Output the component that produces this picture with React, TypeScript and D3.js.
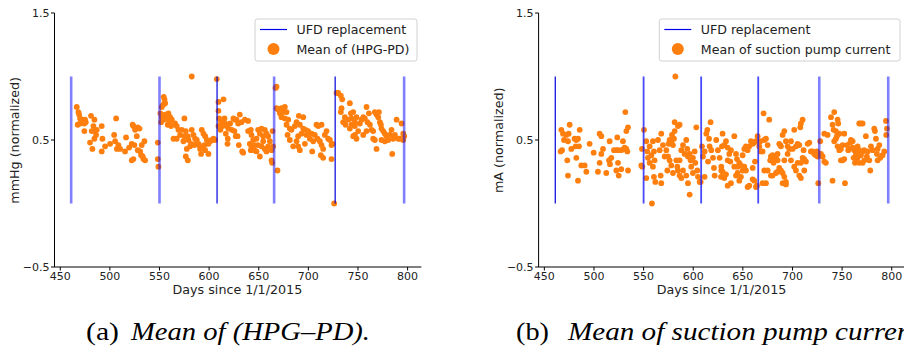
import React from "react";
import * as d3 from "d3";

// ---------- DATA ----------
const UFD_DAYS: number[] = [461, 550, 608, 665.5, 727, 796.5];
const X_TICKS: number[] = [450, 500, 550, 600, 650, 700, 750, 800];
const Y_TICKS: number[] = [-0.5, 0.5, 1.5];
const Y_TICK_LABELS: string[] = ["\u22120.5", "0.5", "1.5"];

// Mean of (HPG-PD): [day, value]
const HPG_PD: [number, number][] = [
  [466.6, 0.76], [468.3, 0.72], [469, 0.70], [467.6, 0.62], [470, 0.67], [471.7, 0.66], [473.3, 0.64],
  [474.3, 0.63], [475, 0.66], [470, 0.63], [475.7, 0.64], [474.3, 0.57], [481, 0.69], [484.4, 0.66],
  [483.4, 0.61], [481.7, 0.57], [485.1, 0.57], [486.1, 0.54], [480, 0.48], [482.4, 0.43], [484.4, 0.51],
  [486.8, 0.58], [491.8, 0.61], [492.5, 0.51], [495.2, 0.45], [491.8, 0.41], [500.2, 0.47], [504.3, 0.54],
  [506.3, 0.67], [505.3, 0.49], [507, 0.43], [508.6, 0.46], [510.3, 0.43], [515.3, 0.41], [516.3, 0.52],
  [519.4, 0.44], [522, 0.47], [523, 0.62], [523.7, 0.61], [525.4, 0.58], [528.1, 0.60], [529.8, 0.59],
  [527.1, 0.53], [524.7, 0.46], [523.7, 0.35], [522, 0.34], [528.1, 0.42], [530.5, 0.41], [532.1, 0.46],
  [533.1, 0.37], [534.8, 0.49], [533.8, 0.35], [535.5, 0.34], [531.5, 0.38], [548.3, 0.48], [548.3, 0.35],
  [548.9, 0.29],
  [554.3, 0.84], [555, 0.82], [554, 0.78], [552.3, 0.76], [555.7, 0.79], [550.9, 0.71], [552.3, 0.68],
  [555.7, 0.70], [557.3, 0.67], [559, 0.71], [560.7, 0.68], [559.7, 0.64], [562.4, 0.66], [558.3, 0.62],
  [561.7, 0.61], [554, 0.66], [551.6, 0.64], [565.7, 0.63], [567.4, 0.61], [569.1, 0.58], [564.1, 0.51],
  [567.4, 0.51], [570.8, 0.54], [572.5, 0.58], [575.1, 0.67], [575.1, 0.53], [574.1, 0.49], [576.5, 0.57],
  [578.5, 0.53], [579.2, 0.50], [582.5, 0.58], [584.2, 0.54], [585.9, 0.51], [580.9, 0.45], [577.5, 0.43],
  [581.9, 0.47], [585.2, 0.46], [587.6, 0.50], [589.3, 0.47], [590.9, 0.43], [592.6, 0.58], [594.3, 0.55],
  [596, 0.53], [597.7, 0.50], [595.3, 0.46], [593.3, 0.44], [599.3, 0.47], [601, 0.49], [602.7, 0.50],
  [604.4, 0.51], [606, 0.50], [599.3, 0.39], [591.9, 0.39], [596, 0.42], [576.5, 0.37], [578.5, 0.34],
  [582.5, 1.00], [586.9, 0.47], [589.9, 0.46],
  [607.7, 0.98], [609.4, 0.80], [609.4, 0.73], [614.5, 0.82], [610.1, 0.67], [612.1, 0.64], [613.5, 0.61],
  [615.5, 0.67], [616.1, 0.63], [617.8, 0.61], [619.5, 0.59], [621.2, 0.63], [624.5, 0.67], [626.2, 0.66],
  [616.8, 0.55], [618.8, 0.51], [609.4, 0.61], [611.4, 0.58], [618.5, 0.47], [622.9, 0.58], [625.5, 0.57],
  [626.9, 0.53], [630.9, 0.70], [627.6, 0.66], [629.3, 0.63], [632.6, 0.64], [636, 0.66], [639.3, 0.65],
  [628.6, 0.53], [629.9, 0.46], [633.3, 0.41], [634.3, 0.40], [639.3, 0.57], [642, 0.58], [642.7, 0.54],
  [644.4, 0.50], [641, 0.47], [642.7, 0.45], [646.1, 0.46], [647.7, 0.51], [649.4, 0.58], [651.1, 0.55],
  [652.8, 0.59], [654.5, 0.53], [656.1, 0.58], [657.8, 0.55], [659.5, 0.53], [661.2, 0.49], [647.7, 0.41],
  [651.1, 0.37], [656.1, 0.43], [657.8, 0.41], [659.5, 0.45], [662.9, 0.42], [663.9, 0.57], [664.5, 0.45],
  [662.9, 0.34], [663.5, 0.32], [652.8, 0.45], [649.4, 0.46], [645.4, 0.42], [642, 0.42], [654.5, 0.49],
  [666.9, 0.91], [667.9, 0.92], [668.9, 0.26], [667.9, 0.75], [669.6, 0.74], [672.9, 0.75], [676.3, 0.76],
  [678, 0.72], [674.6, 0.72], [671.3, 0.71], [672.9, 0.68], [676.3, 0.67], [679.7, 0.66], [678, 0.62],
  [681.3, 0.59], [679, 0.54], [681.3, 0.50], [683, 0.58], [686.4, 0.61], [688.1, 0.64], [690.4, 0.69],
  [694.8, 0.68], [691.4, 0.62], [693.1, 0.55], [684.7, 0.45], [688.1, 0.49], [689.7, 0.53], [691.4, 0.42],
  [694.8, 0.59], [697.1, 0.58], [698.1, 0.54], [699.8, 0.57], [701.5, 0.51], [703.2, 0.55], [704.9, 0.49],
  [706.5, 0.54], [708.2, 0.62], [709.9, 0.61], [713.3, 0.62], [709.2, 0.51], [711.6, 0.49], [713.3, 0.46],
  [714.9, 0.43], [712.6, 0.38], [714.9, 0.36], [716.6, 0.54], [718.3, 0.57], [720, 0.51], [721.7, 0.50],
  [723.3, 0.46], [724.3, 0.47], [723.3, 0.35], [703.9, 0.41], [696.5, 0.47], [689.7, 0.45], [726, 0.0],
  [728.4, 0.87], [730.1, 0.87], [732.7, 0.85], [734.1, 0.82], [733.4, 0.75], [732.7, 0.72], [736.8, 0.68],
  [735.1, 0.64], [737.5, 0.62], [741.8, 0.79], [740.1, 0.66], [742.8, 0.71], [743.5, 0.67], [745.2, 0.72],
  [746.9, 0.64], [748.5, 0.68], [741.8, 0.59], [745.2, 0.53], [746.9, 0.54], [750.2, 0.57], [751.9, 0.63],
  [753.6, 0.66], [755.3, 0.68], [758.6, 0.76], [756.9, 0.67], [759.6, 0.64], [762, 0.62], [763.7, 0.58],
  [765.3, 0.57], [767, 0.72], [768.7, 0.70], [770.4, 0.68], [771.1, 0.72], [772.1, 0.64], [773.1, 0.62],
  [773.7, 0.59], [775.4, 0.57], [777.1, 0.55], [778.8, 0.53], [780.5, 0.50], [782.1, 0.54], [783.8, 0.58],
  [785.5, 0.51], [787.2, 0.54], [788.9, 0.66], [790.5, 0.51], [792.2, 0.51], [767, 0.50], [768.7, 0.43],
  [773.7, 0.50], [777.1, 0.49], [784.5, 0.39], [765.3, 0.51], [748.5, 0.51], [755.3, 0.54], [758.6, 0.57],
  [746.9, 0.61], [743.5, 0.62], [761, 0.71], [793.9, 0.63], [795.6, 0.55], [796.6, 0.53], [795.6, 0.50],
];

// Mean of suction pump current: [day, value]
const PUMP_CURRENT: [number, number][] = [
  [467.1, 0.58], [468.8, 0.55], [467.8, 0.42], [466.4, 0.41], [469.8, 0.50], [472.1, 0.54], [473.8, 0.49],
  [475.5, 0.62], [474.5, 0.55], [477.2, 0.43], [480.5, 0.51], [482.2, 0.50], [483.9, 0.51], [481.5, 0.45],
  [484.9, 0.45], [485.6, 0.58], [473.1, 0.34], [473.8, 0.22], [482.2, 0.36], [483.9, 0.18], [487.2, 0.30],
  [490.6, 0.30], [492.3, 0.25], [495.6, 0.47], [499.7, 0.40], [504, 0.25], [505.7, 0.32], [505.7, 0.55],
  [507.4, 0.53], [509.1, 0.43], [507.4, 0.39], [512.4, 0.24], [515.1, 0.34], [515.8, 0.49], [517.5, 0.36],
  [522.5, 0.42], [520.2, 0.42], [523.5, 0.52], [524.2, 0.42], [522.5, 0.26], [524.2, 0.32], [524.9, 0.22],
  [527.5, 0.27], [529.2, 0.49], [530.2, 0.43], [531.6, 0.72], [532.6, 0.57], [534.3, 0.60], [533.6, 0.41],
  [532.6, 0.43], [534.3, 0.26], [530.9, 0.44], [527.5, 0.42], [516.1, 0.31],
  [550.4, 0.58], [548.4, 0.43], [547.7, 0.30], [548.7, 0.29], [552.7, 0.49], [553.7, 0.41], [554.4, 0.36],
  [556.1, 0.45], [557.8, 0.38], [559.4, 0.49], [560.4, 0.41], [561.1, 0.34], [556.1, 0.32], [559.4, 0.29],
  [552.7, 0.20], [560.4, 0.21], [561.8, 0.17], [558.4, 0.0], [564.5, 0.50], [566.2, 0.42], [567.8, 0.55],
  [569.5, 0.46], [571.2, 0.37], [572.9, 0.42], [573.9, 0.26], [575.2, 0.47], [576.2, 0.50], [577.9, 0.49],
  [578.6, 0.54], [579.6, 0.46], [580.6, 0.51], [581.3, 0.57], [582, 1.0], [583, 0.34], [584, 0.29],
  [584.6, 0.26], [586.3, 0.34], [588, 0.42], [589.7, 0.46], [581.3, 0.64], [584.6, 0.61], [586.3, 0.62],
  [591.3, 0.39], [593, 0.50], [594, 0.43], [594.7, 0.37], [596.4, 0.39], [597.4, 0.34], [598, 0.29],
  [599.7, 0.36], [601.4, 0.41], [602.1, 0.32], [603.1, 0.60], [604.1, 0.26], [604.8, 0.21], [606.5, 0.17],
  [567.2, 0.22], [567.8, 0.16], [576.2, 0.34], [577.9, 0.30], [579.6, 0.24], [586.3, 0.22], [589.7, 0.26],
  [593, 0.22], [594.7, 0.16], [596.4, 0.07], [599.7, 0.24], [588, 0.20], [574.6, 0.37],
  [608.8, 0.45], [609.8, 0.37], [611.5, 0.41], [613.2, 0.55], [614.2, 0.58], [615.9, 0.51], [617.5, 0.64],
  [616.5, 0.45], [618.2, 0.42], [619.9, 0.36], [620.9, 0.28], [623.2, 0.50], [624.9, 0.42], [626.6, 0.36],
  [628.3, 0.29], [629, 0.45], [628.3, 0.26], [611.5, 0.21], [614.9, 0.33], [607.5, 0.17], [621.6, 0.22],
  [629.6, 0.55], [631.3, 0.46], [633, 0.49], [634.7, 0.44], [636.3, 0.39], [637.4, 0.33], [634.7, 0.34],
  [629.6, 0.25], [631.3, 0.20], [628, 0.21], [633, 0.23], [638, 0.42], [641.4, 0.53], [643.1, 0.39],
  [644.1, 0.35], [644.7, 0.29], [641.4, 0.29], [646.4, 0.32], [648.1, 0.30], [649.8, 0.38], [651.5, 0.43],
  [653.1, 0.45], [654.8, 0.42], [656.5, 0.45], [658.2, 0.49], [659.9, 0.47], [661.5, 0.48], [663.2, 0.49],
  [662.2, 0.33], [659.9, 0.28], [654.8, 0.13], [656.5, 0.14], [659.9, 0.19], [661.5, 0.18], [663.2, 0.13],
  [664.2, 0.14], [648.1, 0.21], [649.8, 0.26], [651.5, 0.29], [644.7, 0.24], [646.4, 0.18], [653.1, 0.26],
  [643.1, 0.22], [634.7, 0.14], [638, 0.16],
  [664.9, 0.53], [666.6, 0.45], [667.6, 0.49], [668.2, 0.41], [669.9, 0.41], [670.9, 0.71], [671.6, 0.50],
  [673.3, 0.51], [675, 0.46], [676.6, 0.66], [677.6, 0.34], [678.3, 0.37], [680, 0.38], [681, 0.32],
  [681.7, 0.34], [683.4, 0.36], [685, 0.39], [686.7, 0.47], [687.7, 0.46], [688.4, 0.45], [690.1, 0.54],
  [691.8, 0.57], [693.4, 0.49], [695.1, 0.45], [696.8, 0.43], [683.4, 0.24], [685, 0.25], [686.7, 0.28],
  [688.4, 0.26], [690.1, 0.24], [691.8, 0.21], [693.4, 0.17], [690.1, 0.16], [693.4, 0.15], [671.6, 0.26],
  [675, 0.26], [678.3, 0.22], [680, 0.22], [673.3, 0.16], [669.9, 0.16], [698.5, 0.49], [700.2, 0.43],
  [701.8, 0.58], [703.5, 0.45], [705.2, 0.47], [706.9, 0.46], [707.9, 0.60], [708.5, 0.63], [710.2, 0.66],
  [711.2, 0.42], [711.9, 0.35], [710.2, 0.36], [708.5, 0.32], [711.9, 0.26], [713.6, 0.33], [715.3, 0.47],
  [717, 0.48], [718.6, 0.41], [720.3, 0.41], [722, 0.39], [723.7, 0.38], [724.7, 0.41], [725.3, 0.37],
  [706.9, 0.22], [708.5, 0.20], [698.5, 0.34], [701.8, 0.29], [703.5, 0.26], [705.2, 0.32], [695.1, 0.39],
  [691.8, 0.34], [685, 0.34],
  [726, 0.16], [728, 0.49], [728.7, 0.39], [730.4, 0.37], [732.1, 0.33], [733.7, 0.32], [732.1, 0.55],
  [735.4, 0.54], [738.8, 0.68], [742.1, 0.72], [740.4, 0.62], [741.4, 0.58], [743.8, 0.57], [745.5, 0.66],
  [746.1, 0.63], [744.8, 0.53], [743.8, 0.51], [747.2, 0.55], [740.4, 0.18], [742.1, 0.49], [745.5, 0.45],
  [747.2, 0.42], [748.8, 0.43], [750.5, 0.46], [752.2, 0.55], [752.9, 0.16], [748.8, 0.34], [750.5, 0.34],
  [752.2, 0.35], [754.9, 0.46], [756.2, 0.42], [757.2, 0.43], [758.2, 0.48], [758.9, 0.50], [760.6, 0.49],
  [762.3, 0.42], [764, 0.39], [761.6, 0.36], [763, 0.32], [765.6, 0.36], [767.3, 0.63], [769, 0.63],
  [770.7, 0.63], [769, 0.38], [770.7, 0.41], [772.3, 0.42], [774, 0.53], [775, 0.37], [775.7, 0.41],
  [777.4, 0.34], [778.4, 0.26], [779.1, 0.45], [780.7, 0.42], [782.4, 0.59], [783.1, 0.57], [784.1, 0.51],
  [785.8, 0.43], [785.1, 0.39], [787.5, 0.46], [788.5, 0.36], [790.8, 0.38], [792.5, 0.41], [785.8, 0.34],
  [794.2, 0.65], [795.2, 0.59], [794.5, 0.54], [772.3, 0.34], [767.3, 0.32], [764, 0.33], [760.6, 0.44],
  [765.6, 0.45], [767.3, 0.42], [770.7, 0.32],
];

// ---------- STYLES ----------
const ORANGE = "#ff7f0e";
const FONT = "DejaVu Sans, sans-serif";
const SERIF = "Liberation Serif, serif";
type LineKind = "light" | "medium" | "dark";
const LINE_STYLES: Record<LineKind, { stroke: string; opacity: number; width: number }> = {
  light: { stroke: "#0000ff", opacity: 0.5, width: 2.6 },
  medium: { stroke: "#1a1aff", opacity: 0.8, width: 1.8 },
  dark: { stroke: "#0000dd", opacity: 1, width: 1.2 },
};

const yScale = d3.scaleLinear().domain([-0.5, 1.5]).range([267, 13]);
const X_DOMAIN: [number, number] = [444.2, 813.8];

interface PanelProps {
  x0: number;
  points: [number, number][];
  lineKinds: LineKind[];
  yLabel: string;
  yLabelX: number;
  legendLabel: string;
  legendX: number;
  legendW: number;
}

function Panel({ x0, points, lineKinds, yLabel, yLabelX, legendLabel, legendX, legendW }: PanelProps) {
  const xScale = d3.scaleLinear().domain(X_DOMAIN).range([x0, x0 + 366.8]);
  const [r0, r1] = xScale.range();
  const yBase = yScale.range()[0];
  const yTop = yScale.range()[1];
  return (
    <g>
      {points.map(([d, v], i) => (
        <circle key={i} cx={xScale(d)} cy={yScale(v)} r={2.9} fill={ORANGE} />
      ))}
      {UFD_DAYS.map((d, i) => {
        const s = LINE_STYLES[lineKinds[i]];
        return (
          <line key={i} x1={xScale(d)} x2={xScale(d)} y1={yScale(0)} y2={yScale(1)}
            stroke={s.stroke} strokeOpacity={s.opacity} strokeWidth={s.width} />
        );
      })}
      <line x1={r0} x2={r0} y1={yTop} y2={yBase} stroke="#000" strokeWidth={1} />
      <line x1={r0} x2={r1} y1={yBase} y2={yBase} stroke="#000" strokeWidth={1} />
      {Y_TICKS.map((t, i) => (
        <g key={i}>
          <line x1={r0 - 3.5} x2={r0} y1={yScale(t)} y2={yScale(t)} stroke="#000" strokeWidth={1} />
          <text x={r0 - 5} y={yScale(t)} dy="0.36em" textAnchor="end" fontSize={11} fontFamily={FONT} fill="#222">
            {Y_TICK_LABELS[i]}
          </text>
        </g>
      ))}
      {X_TICKS.map((t) => (
        <g key={t}>
          <line x1={xScale(t)} x2={xScale(t)} y1={yBase} y2={yBase + 3.5} stroke="#000" strokeWidth={1} />
          <text x={xScale(t)} y={280} textAnchor="middle" fontSize={11} fontFamily={FONT} fill="#222">
            {t}
          </text>
        </g>
      ))}
      <text x={(r0 + r1) / 2 - 0.5} y={294.3} textAnchor="middle" fontSize={12.7} fontFamily={FONT} fill="#222">
        Days since 1/1/2015
      </text>
      <text transform={`translate(${yLabelX},140.3) rotate(-90)`} textAnchor="middle" fontSize={12.7} fontFamily={FONT} fill="#222">
        {yLabel}
      </text>
      <rect x={legendX} y={19} width={legendW} height={42} rx={2.5} fill="#fff" fillOpacity={0.8} stroke="#d0d0d0" strokeWidth={1} />
      <line x1={legendX + 5} x2={legendX + 32} y1={29.5} y2={29.5} stroke="#0000ee" strokeWidth={1.2} />
      <text x={legendX + 41.5} y={34} fontSize={12.6} fontFamily={FONT} fill="#222">UFD replacement</text>
      <circle cx={legendX + 18.5} cy={49} r={6} fill={ORANGE} />
      <text x={legendX + 41.5} y={53.5} fontSize={12.6} fontFamily={FONT} fill="#222">{legendLabel}</text>
    </g>
  );
}

export default function App() {
  return (
    <svg width={904} height={350} style={{ position: "absolute", left: 0, top: 0, background: "#fff" }}
      viewBox="0 0 904 350">
      <rect x={0} y={0} width={904} height={350} fill="#fff" />
      <Panel x0={54.5} points={HPG_PD} lineKinds={["light", "light", "dark", "light", "dark", "light"]}
        yLabel="mmHg (normalized)" yLabelX={19} legendLabel="Mean of (HPG-PD)" legendX={255} legendW={162} />
      <Panel x0={538.6} points={PUMP_CURRENT} lineKinds={["dark", "medium", "medium", "medium", "light", "light"]}
        yLabel="mA (normalized)" yLabelX={502.5} legendLabel="Mean of suction pump current" legendX={659.3} legendW={240.7} />
      <text x={86} y={340} fontSize={26} fontFamily={SERIF} fill="#000" textLength={33} lengthAdjust="spacingAndGlyphs">(a)</text>
      <text x={131} y={340} fontSize={26} fontFamily={SERIF} fontStyle="italic" fill="#000"
        textLength={239} lengthAdjust="spacingAndGlyphs">Mean of (HPG{"\u2013"}PD).</text>
      <text x={516} y={340} fontSize={26} fontFamily={SERIF} fill="#000" textLength={33} lengthAdjust="spacingAndGlyphs">(b)</text>
      <text x={568} y={340} fontSize={26} fontFamily={SERIF} fontStyle="italic" fill="#000"
        textLength={359} lengthAdjust="spacingAndGlyphs">Mean of suction pump current.</text>
    </svg>
  );
}
